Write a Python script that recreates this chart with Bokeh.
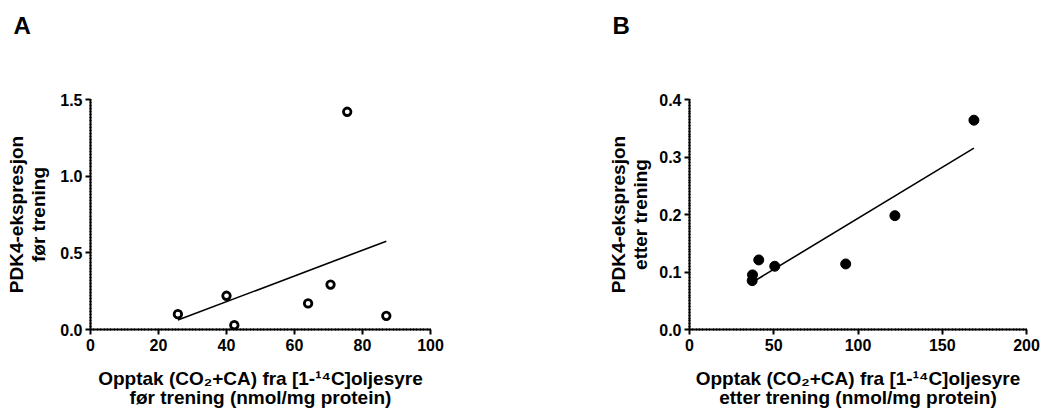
import numpy as np
from bokeh.plotting import figure
from bokeh.layouts import row
from bokeh.models import Range1d, FixedTicker, NumeralTickFormatter, Title
from bokeh.embed import file_html
from bokeh.resources import INLINE

# ---- data ----
a_x = [25.7, 40.0, 42.3, 64.0, 70.6, 75.5, 87.0]
a_y = [0.10, 0.22, 0.028, 0.17, 0.293, 1.42, 0.089]

b_x = [37.2, 37.4, 41.1, 50.6, 92.7, 121.9, 168.8]
b_y = [0.085, 0.095, 0.121, 0.110, 0.114, 0.198, 0.364]

a_xticks = [0, 20, 40, 60, 80, 100]
a_yticks = [0.0, 0.5, 1.0, 1.5]
b_xticks = [0, 50, 100, 150, 200]
b_yticks = [0.0, 0.1, 0.2, 0.3, 0.4]

a_xlabel = ["Opptak (CO\u2082+CA) fra [1-\u00b9\u2074C]oljesyre", "f\u00f8r trening (nmol/mg protein)"]
a_ylabel = ["PDK4-ekspresjon", "f\u00f8r trening"]
b_xlabel = ["Opptak (CO\u2082+CA) fra [1-\u00b9\u2074C]oljesyre", "etter trening (nmol/mg protein)"]
b_ylabel = ["PDK4-ekspresjon", "etter trening"]

FONT = "Liberation Sans"


def panel(letter, xs, ys, xmax, ymax, xticks, yticks, xminor_step, yminor_step,
          xlab, ylab, filled, frame_w, border_l, border_r, ylab_standoff):
    p = figure(frame_width=frame_w, frame_height=230,
               x_range=Range1d(0, xmax), y_range=Range1d(0, ymax),
               min_border_left=border_l, min_border_right=border_r,
               min_border_top=99, min_border_bottom=79,
               output_backend="svg", toolbar_location=None)
    p.xgrid.visible = False
    p.ygrid.visible = False
    p.outline_line_color = None

    # spacer panel next to the frame, then the panel letter further out
    p.add_layout(Title(text=" ", text_font_size="1px", standoff=58), "above")
    p.title.text = letter
    p.title.align = "left"
    p.title.offset = -77
    p.title.standoff = 0
    p.title.text_font = FONT
    p.title.text_font_style = "bold"
    p.title.text_font_size = "24px"
    p.title.text_color = "black"

    xminor = list(np.round(np.arange(0, xmax + 1e-9, xminor_step), 6))
    yminor = list(np.round(np.arange(0, ymax + 1e-9, yminor_step), 6))
    p.xaxis.ticker = FixedTicker(ticks=xticks, minor_ticks=xminor)
    p.yaxis.ticker = FixedTicker(ticks=yticks, minor_ticks=yminor)
    p.xaxis.formatter = NumeralTickFormatter(format="0")
    p.yaxis.formatter = NumeralTickFormatter(format="0.0")

    for ax in (p.xaxis, p.yaxis):
        ax.axis_line_width = 2
        ax.axis_line_color = "black"
        ax.major_tick_line_width = 2
        ax.major_tick_line_color = "black"
        ax.major_tick_out = 5
        ax.major_tick_in = 0
        ax.minor_tick_line_width = 1
        ax.minor_tick_line_color = "black"
        ax.minor_tick_out = 1
        ax.minor_tick_in = 1
        ax.major_label_text_font = FONT
        ax.major_label_text_font_style = "bold"
        ax.major_label_text_font_size = "16px"
        ax.major_label_text_color = "black"
        ax.axis_label_text_font = FONT
        ax.axis_label_text_font_style = "bold"
        ax.axis_label_text_font_size = "19px"
        ax.axis_label_text_color = "black"
    p.xaxis.major_label_standoff = 4
    p.yaxis.major_label_standoff = 3

    p.xaxis.axis_label = xlab[0] + "\n" + xlab[1]
    p.xaxis.axis_label_standoff = 14
    p.xaxis.axis_label_text_line_height = 0.95
    p.yaxis.axis_label = ylab[0] + "\n" + ylab[1]
    p.yaxis.axis_label_standoff = ylab_standoff
    p.yaxis.axis_label_text_line_height = 1.05

    # regression line
    slope, intercept = np.polyfit(xs, ys, 1)
    lx = [min(xs), max(xs)]
    ly = [slope * v + intercept for v in lx]
    p.line(lx, ly, line_color="black", line_width=1.6)

    if filled:
        p.scatter(xs, ys, marker="circle", size=10, fill_color="black", line_color="black")
    else:
        p.scatter(xs, ys, marker="circle", size=7.5, fill_color=None,
                  line_color="black", line_width=2.8)
    return p


pA = panel("A", a_x, a_y, 100, 1.5, a_xticks, a_yticks, 1, 0.02,
           a_xlabel, a_ylabel, False, 340, 90, 92, 8)
pB = panel("B", b_x, b_y, 200, 0.4, b_xticks, b_yticks, 2, 0.005,
           b_xlabel, b_ylabel, True, 337, 167, 18, 5)

layout = row(pA, pB)
open("out.html", "w").write(file_html(layout, INLINE))
